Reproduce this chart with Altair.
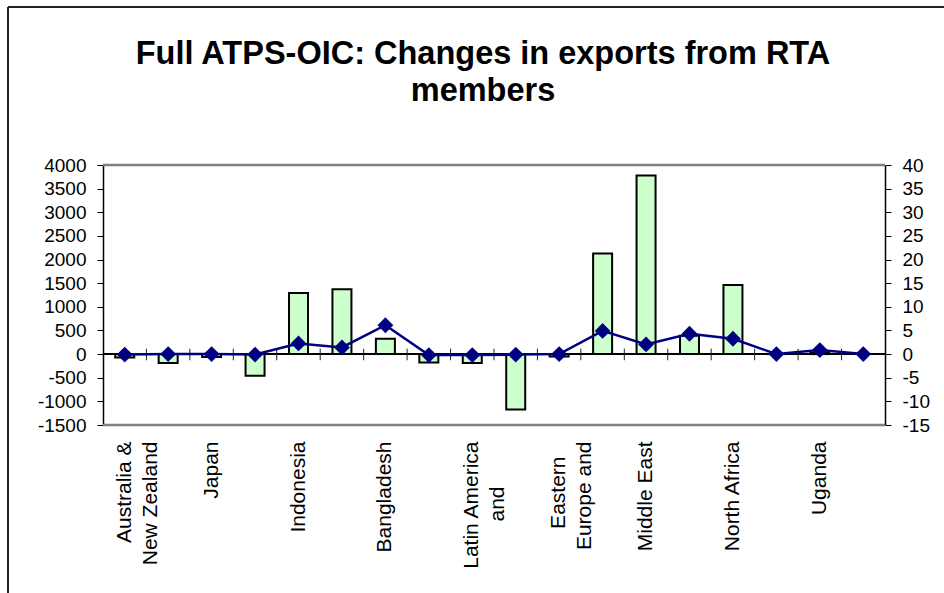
import altair as alt
import pandas as pd

regions = [
    "Australia & New Zealand", "China", "Japan", "Korea", "Indonesia", "Malaysia",
    "Bangladesh", "Pakistan", "Latin America and Caribbean", "European Union",
    "Eastern Europe and Central Asia", "Turkey", "Middle East", "Egypt",
    "North Africa", "Sub-Saharan Africa", "Uganda", "Rest of World",
]
# visible (truncated) tick labels, one per region; odd ones are not shown
tick_labels = [
    ["Australia &", "New Zealand"], [], ["Japan"], [], ["Indonesia"], [],
    ["Bangladesh"], [], ["Latin America", "and"], [], ["Eastern", "Europe and"], [],
    ["Middle East"], [], ["North Africa"], [], ["Uganda"], [],
]
exports_change = [-70, -190, -60, -460, 1290, 1370, 325, -180, -190, -1170,
                  -50, 2130, 3780, 390, 1460, 5, 30, 0]
pct_change = [-0.1, 0.0, 0.0, -0.1, 2.25, 1.4, 6.1, -0.2, -0.2, -0.1,
              0.0, 4.9, 2.05, 4.3, 3.25, 0.0, 0.85, 0.0]
left_ticks = [-1500, -1000, -500, 0, 500, 1000, 1500, 2000, 2500, 3000, 3500, 4000]
right_ticks = [-15, -10, -5, 0, 5, 10, 15, 20, 25, 30, 35, 40]
title_lines = ["Full ATPS-OIC: Changes in exports from RTA", "members"]

df = pd.DataFrame({"region": regions, "exports": exports_change, "pct": pct_change})
tick_df = pd.DataFrame({"region": regions[:-1]})

FONT = "Liberation Sans"
# shorter wrapped lines are centred under the longer one (as in the original):
# pad them with blank (non-whitespace) glyphs so the right-aligned text shifts
BLANK = "\u2800"
line_pad = {"and": BLANK * 3, "Eastern": BLANK * 1}

def q(s):
    return "'" + s.replace("'", "\\'") + "'"

expr = "''"
for r, lab in reversed(list(zip(regions, tick_labels))):
    if lab:
        arr = "[" + ",".join(q(s + line_pad.get(s, "")) for s in lab) + "]"
        expr = f"datum.value == {q(r)} ? {arr} : ({expr})"

x_enc = alt.X(
    "region:N", sort=regions, title=None,
    scale=alt.Scale(paddingInner=0, paddingOuter=0),
    axis=alt.Axis(labelExpr=expr, labelAngle=270, labelAlign="right", labelBaseline="middle",
                  labelFont=FONT, labelFontSize=21, labelColor="black", labelLineHeight=26,
                  labelPadding=16, ticks=False, domain=False, labelOverlap=False,
                  labelLimit=300),
)

left_scale = alt.Scale(domain=[-1500, 4000], nice=False, zero=False)
right_scale = alt.Scale(domain=[-15, 40], nice=False, zero=False)

common_axis = dict(grid=False, labelExpr="'' + datum.value", labelFont=FONT, labelFontSize=19,
                   labelColor="black", tickColor="black", tickSize=6, domainColor="black",
                   domainWidth=1.5, labelPadding=11, labelOverlap=False, labelFlush=False,
                   title=None)
left_axis = alt.Axis(values=left_ticks, tickCount=len(left_ticks) + 2, **common_axis)
right_axis = alt.Axis(orient="right", values=right_ticks, tickCount=len(right_ticks) + 2,
                      **common_axis)

base = alt.Chart(df)

one = pd.DataFrame({"a": [0]})
frame = alt.Chart(one).mark_rule(color="#808080", strokeWidth=2.5)
frame_top = frame.encode(x=alt.value(0), x2=alt.value(782), y=alt.value(0))
frame_bottom = frame.encode(x=alt.value(0), x2=alt.value(782), y=alt.value(260))

bars = base.mark_bar(width=19, fill="#CCFFCC", stroke="black", strokeWidth=2).encode(
    x=x_enc,
    y=alt.Y("exports:Q", scale=left_scale, axis=left_axis),
)
zero_rule = base.mark_rule(color="black", strokeWidth=1.5).encode(
    y=alt.YDatum(0),
    x=alt.value(0), x2=alt.value(782),
)
cross_ticks = alt.Chart(tick_df).mark_rule(color="#222222", strokeWidth=1, xOffset=21.7).encode(
    x=alt.X("region:N", sort=regions),
    y=alt.YDatum(115),
    y2=alt.Y2Datum(-130),
)
left_group = alt.layer(bars, zero_rule, cross_ticks)

line = base.mark_line(color="#000080", strokeWidth=2.5).encode(
    x=alt.X("region:N", sort=regions),
    y=alt.Y("pct:Q", scale=right_scale, axis=right_axis),
)
points = base.mark_point(shape="diamond", filled=True, size=250, color="#000080", opacity=1).encode(
    x=alt.X("region:N", sort=regions),
    y=alt.Y("pct:Q", scale=right_scale),
)
right_group = alt.layer(line, points)

border = alt.Chart(one).mark_rule(color="#222222", strokeWidth=2)
border_top = border.encode(x=alt.value(-95), x2=alt.value(845), y=alt.value(-158))
border_left = border.encode(x=alt.value(-95), y=alt.value(-158), y2=alt.value(430))

title = alt.Chart(one).mark_text(
    text=title_lines, font=FONT, fontSize=32.5, fontWeight="bold", color="black",
    align="center", baseline="alphabetic", lineHeight=37,
).encode(x=alt.value(380), y=alt.value(-101))

chart = alt.layer(
    frame_top, frame_bottom, left_group, right_group, border_top, border_left, title
).resolve_scale(
    y="independent"
).properties(
    width=782,
    height=260,
    padding={"left": 103, "top": 165, "right": 59, "bottom": 168},
    autosize=alt.AutoSizeParams(type="none"),
).configure(background="white").configure_view(stroke=None)

chart.save("out.html", embed_options={"renderer": "svg", "actions": False})
